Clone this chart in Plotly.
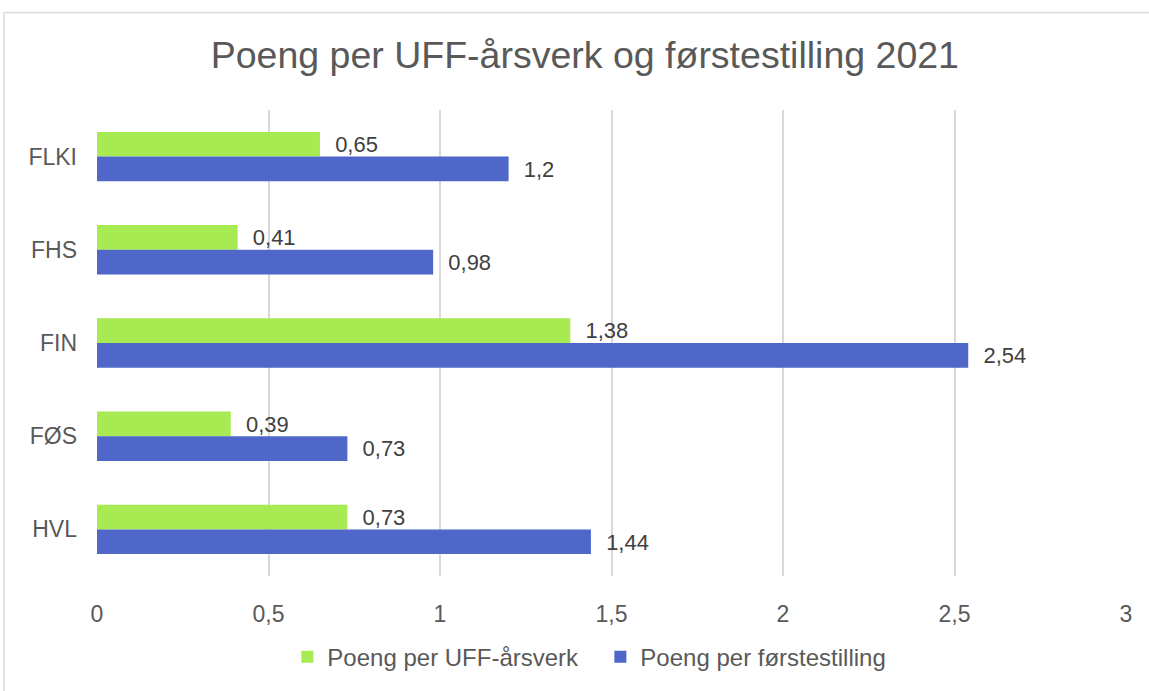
import plotly.graph_objects as go

# data
categories = ["FLKI", "FHS", "FIN", "FØS", "HVL"]
uff_aarsverk = [0.65, 0.41, 1.38, 0.39, 0.73]
forstestilling = [1.2, 0.98, 2.54, 0.73, 1.44]
series_names = ["Poeng per UFF-årsverk", "Poeng per førstestilling"]
x_ticks = [0, 0.5, 1, 1.5, 2, 2.5, 3]


def fmt(v):
    # Norwegian decimal comma
    return ("%g" % v).replace(".", ",")


FONT = "Liberation Sans, Arial, sans-serif"

fig = go.Figure()

for name, vals, color in [
    (series_names[0], uff_aarsverk, "#A7EA52"),
    (series_names[1], forstestilling, "#4E67C8"),
]:
    fig.add_trace(go.Bar(
        y=categories, x=vals,
        orientation="h",
        name=name,
        marker=dict(color=color, line=dict(width=0)),
        text=["  " + fmt(v) for v in vals],
        textposition="outside",
        textfont=dict(family=FONT, size=24, color="#404040"),
        cliponaxis=False,
    ))

fig.update_layout(
    title=dict(
        text="Poeng per UFF-årsverk og førstestilling 2021",
        x=0.509, xanchor="center", xref="container",
        y=0.92, yanchor="middle", yref="container",
        font=dict(family=FONT, size=37.5, color="#595959"),
    ),
    barmode="group",
    bargap=0.47,
    bargroupgap=0,
    width=1149, height=691,
    margin=dict(l=97, r=23, t=110, b=111),
    paper_bgcolor="white",
    plot_bgcolor="white",
    font=dict(family=FONT, size=23, color="#595959"),
    xaxis=dict(
        range=[0, 3],
        tickvals=x_ticks,
        ticktext=[fmt(t) for t in x_ticks],
        showgrid=True, gridcolor="#D9D9D9", gridwidth=1.5,
        zeroline=False, showline=False,
        ticks="", ticklabelstandoff=22,
        tickfont=dict(family=FONT, size=23, color="#595959"),
    ),
    yaxis=dict(
        autorange="reversed",
        showgrid=False, zeroline=False, showline=False,
        ticks="", ticklabelstandoff=19,
        tickfont=dict(family=FONT, size=23, color="#595959"),
    ),
    legend=dict(
        orientation="h",
        x=0.185, xanchor="left",
        y=-0.174, yanchor="middle",
        font=dict(family=FONT, size=24, color="#595959"),
        itemwidth=30,
        entrywidth=268,
    ),
    showlegend=True,
    shapes=[
        # chart area border (left and top edges are visible)
        dict(type="line", xref="paper", yref="paper",
             x0=-0.0904, x1=-0.0904, y0=1.209, y1=-0.3,
             line=dict(color="#D9D9D9", width=1.5)),
        dict(type="line", xref="paper", yref="paper",
             x0=-0.0904, x1=1.05, y0=1.209, y1=1.209,
             line=dict(color="#D9D9D9", width=1.5)),
    ],
)

fig.write_html("out.html", config={"displayModeBar": False},
               post_script="document.body.style.margin='0';")
